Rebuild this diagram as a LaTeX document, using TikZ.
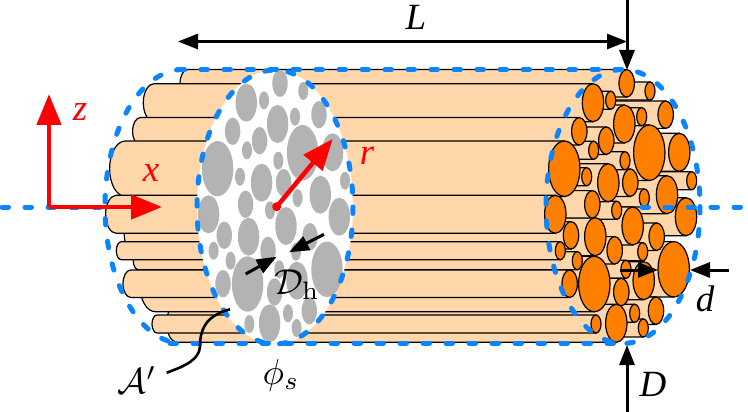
\documentclass[tikz,border=0pt]{standalone}
\usepackage{amsmath}
\usepackage{fontspec}
\newfontfamily\labelfont{Liberation Serif}
\usetikzlibrary{arrows.meta}
\definecolor{tubefill}{HTML}{FFD7AB}
\definecolor{faceorange}{HTML}{FF8000}
\definecolor{facegray}{HTML}{B3B3B3}
\definecolor{dashblue}{HTML}{0A84FF}
\definecolor{axisred}{HTML}{FF0000}
\tikzset{
  tube/.style={fill=tubefill,draw=black,line width=1.2pt},
  face/.style={fill=faceorange,draw=black,line width=1.2pt},
  hole/.style={fill=facegray,draw=none},
  bluedash/.style={draw=dashblue,line width=5pt,line cap=round,dash pattern=on 6.5pt off 16.5pt},
  blackarrow/.style={draw=black,line width=3pt,-{Triangle[length=20pt,width=15pt]}},
  blackboth/.style={draw=black,line width=3pt,{Triangle[length=20pt,width=15pt]}-{Triangle[length=20pt,width=15pt]}},
  redarrow/.style={draw=axisred,line width=4.5pt,-{Triangle[length=31pt,width=24pt]}},
  lab/.style={inner sep=0pt,font=\fontsize{37}{40}\selectfont\labelfont\itshape},
  callab/.style={inner sep=0pt,scale=3.6},
  redlab/.style={lab,text=axisred}
}
\begin{document}
\begin{tikzpicture}[x=1pt,y=-1pt]
\useasboundingbox (0,0) rectangle (748,412);
\fill[white] (0,0) rectangle (748,412);
% bundle of tubes, back to front
\foreach \cx/\cy/\rx/\ry in {
691.7/180.7/5/9, 686/216.7/10.7/19, 679.3/152.3/10.7/19, 673.7/269.3/15.7/27.7,
667/194.7/10.7/19, 665.7/114.7/7.7/13.7, 656.7/236.7/7.7/13.7, 656/310.7/7.7/13.7,
650/91/5/9, 649.3/152.7/15.7/27.7, 644.3/198/5/9, 643.7/280.7/10.7/19,
643.3/328/5/9, 642.7/251.7/5/9, 641.7/116.7/5/9, 634.7/313.3/5/9,
632.7/226/10.7/19, 630.3/182.7/7.7/13.7, 626.7/83.3/7.7/13.7, 626/269.3/5/9,
625/160.7/5/9, 624.3/124/10.7/19, 621.3/292/7.7/13.7, 616.7/210.3/5/9,
616.3/323.3/10.7/19, 614.7/250.3/7.7/13.7, 610.7/100.3/5/9, 608.3/182.7/10.7/19,
606.3/140.7/7.7/13.7, 596/324/5/9, 595.3/236.7/10.7/19, 594.3/284/15.7/27.7,
593.7/150.3/5/9, 593/102.7/10.7/19, 592.3/204.3/7.7/13.7, 586.7/176.7/5/9,
579.3/131.3/7.7/13.7, 577.3/260.7/5/9, 571/235.3/7.7/13.7, 569.7/283.7/7.7/13.7,
564.3/168.7/15.7/27.7, 560.3/250.7/5/9, 555.3/214.3/10.7/19}
{
  \path[tube] ({\cx-439},{\cy-\ry}) arc[start angle=270,end angle=90,x radius=\rx,y radius=\ry]
     -- ({\cx},{\cy+\ry}) -- ({\cx},{\cy-\ry}) -- cycle;
  \path[face] (\cx,\cy) ellipse[x radius=\rx,y radius=\ry];
}
% cut face
\fill[white] (275,207) ellipse[x radius=78,y radius=137];
\foreach \cx/\cy/\rx/\ry in {
691.7/180.7/5/9, 686/216.7/10.7/19, 679.3/152.3/10.7/19, 673.7/269.3/15.7/27.7,
667/194.7/10.7/19, 665.7/114.7/7.7/13.7, 656.7/236.7/7.7/13.7, 656/310.7/7.7/13.7,
650/91/5/9, 649.3/152.7/15.7/27.7, 644.3/198/5/9, 643.7/280.7/10.7/19,
643.3/328/5/9, 642.7/251.7/5/9, 641.7/116.7/5/9, 634.7/313.3/5/9,
632.7/226/10.7/19, 630.3/182.7/7.7/13.7, 626.7/83.3/7.7/13.7, 626/269.3/5/9,
625/160.7/5/9, 624.3/124/10.7/19, 621.3/292/7.7/13.7, 616.7/210.3/5/9,
616.3/323.3/10.7/19, 614.7/250.3/7.7/13.7, 610.7/100.3/5/9, 608.3/182.7/10.7/19,
606.3/140.7/7.7/13.7, 596/324/5/9, 595.3/236.7/10.7/19, 594.3/284/15.7/27.7,
593.7/150.3/5/9, 593/102.7/10.7/19, 592.3/204.3/7.7/13.7, 586.7/176.7/5/9,
579.3/131.3/7.7/13.7, 577.3/260.7/5/9, 571/235.3/7.7/13.7, 569.7/283.7/7.7/13.7,
564.3/168.7/15.7/27.7, 560.3/250.7/5/9, 555.3/214.3/10.7/19}
{
  \path[hole] ({\cx-346.7},\cy) ellipse[x radius=\rx,y radius=\ry];
}
% blue dashed envelope
\path[bluedash] (275,207) ellipse[x radius=78,y radius=137];
\path[bluedash] (623,206.5) ellipse[x radius=77,y radius=137];
\path[bluedash] (183,69.5) arc[start angle=270,end angle=90,x radius=78,y radius=137];
\path[bluedash] (178,69.5) -- (627,69.5);
\path[bluedash] (170,343) -- (625,343);
\coordinate (axL0) at (2,207);
\coordinate (axL1) at (108,207);
\coordinate (axR0) at (642,207);
\coordinate (axR1) at (746,207);
\path[bluedash] (axL0) -- (axL1);
\path[bluedash] (axR0) -- (axR1);
% coordinate axes
\coordinate (org) at (49,207);
\coordinate (ztip) at (49,94);
\coordinate (xtip) at (162,207);
\draw[redarrow] (org) -- (ztip);
\draw[redarrow] (org) -- (xtip);
\node[redlab] (zlab) at (80,112) {z};
\node[redlab] (xlab) at (151,173) {x};
% radius
\coordinate (cen) at (276.7,206.7);
\coordinate (rtip) at (332.7,139);
\fill[axisred] (cen) circle[radius=4.5];
\draw[redarrow] (cen) -- (rtip);
\node[redlab] (rlab) at (367,156) {r};
% dimensions
\coordinate (La) at (178,41.5);
\coordinate (Lb) at (627,41.5);
\draw[blackboth] (La) -- (Lb);
\node[lab] (Llab) at (416,17) {L};
\coordinate (topS) at (627,0);
\coordinate (topT) at (627,70);
\draw[blackarrow] (topS) -- (topT);
\coordinate (botS) at (627,412);
\coordinate (botT) at (627,345);
\draw[blackarrow] (botS) -- (botT);
\node[lab] (Dlab) at (653,384) {D};
\coordinate (dLs) at (620,270);
\coordinate (dLt) at (658,270);
\coordinate (dRs) at (729,270);
\coordinate (dRt) at (690,270);
\draw[blackarrow] (dLs) -- (dLt);
\draw[blackarrow] (dRs) -- (dRt);
\node[lab] (dlab) at (705,299) {d};
\coordinate (hLs) at (245.7,274);
\coordinate (hLt) at (276.7,256.7);
\coordinate (hRs) at (324,234.3);
\coordinate (hRt) at (289,252.3);
\draw[blackarrow] (hLs) -- (hLt);
\draw[blackarrow] (hRs) -- (hRt);
\node[callab] (Dhlab) at (297,285) {$\mathcal{D}_{\mathrm{h}}$};
\node[callab] (phi) at (281,375) {$\phi_s$};
\node[callab] (Alab) at (137,380) {$\mathcal{A}'$};
\coordinate (Aa) at (230,309.3);
\coordinate (Ab) at (166.7,372.7);
\draw[black,line width=2.6pt] (Aa) .. controls (205,316) and (200,330) .. (200,346.7)
   .. controls (199,360) and (185,366) .. (Ab);
\end{tikzpicture}
\end{document}
